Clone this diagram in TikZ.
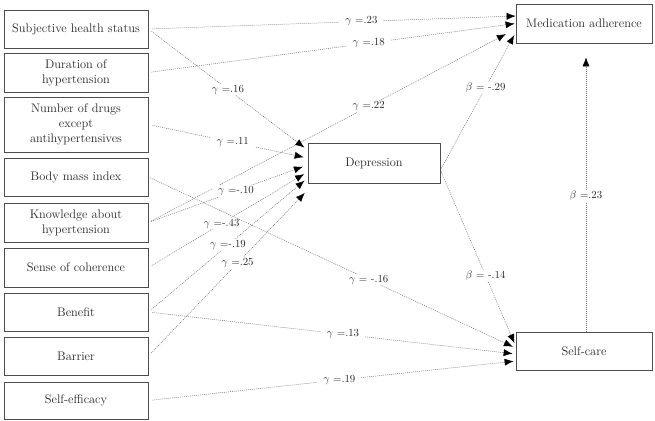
\documentclass[tikz,border=0pt]{standalone}
\usepackage{amsmath, amssymb}
\usepackage{tikz}
\usetikzlibrary{arrows.meta, positioning, calc}

\begin{document}
\begin{tikzpicture}[
  x=1pt, y=-1pt,
  box/.style={draw=black!70, line width=0.8pt, minimum width=144pt,
    minimum height=38pt, align=center, text=black!85,
    font=\fontsize{12.4}{15}\selectfont},
  arr/.style={-{Latex[length=9pt, width=7pt, black]}, black!55,
    line width=0.5pt, dash pattern=on 1pt off 1pt},
  lab/.style={fill=white, text=black!85, inner xsep=6pt, inner ysep=1pt,
    font=\fontsize{10.8}{12}\selectfont}
]
  \useasboundingbox (0,0) rectangle (655,420);
  \foreach \nm/\yy/\hh/\txt in {
      shs/29/38/{Subjective health status},
      dur/72.5/39/{Duration of\\hypertension},
      drug/124.5/55/{Number of drugs\\except\\antihypertensives},
      bmi/177/38/{Body mass index},
      know/222.5/39/{Knowledge about\\hypertension},
      soc/267.5/39/{Sense of coherence},
      ben/312/38/{Benefit},
      bar/356/38/{Barrier},
      eff/400.5/37/{Self-efficacy}} {
    \node[box, minimum height=\hh pt] (\nm) at (76,\yy) {\txt};
  }
  \node[box, minimum width=132pt, minimum height=40pt] (dep) at (374,163)
    {Depression};
  \node[box, minimum width=136pt, minimum height=39pt] (med) at (584,23.5)
    {Medication adherence};
  \node[box, minimum width=136pt, minimum height=38pt] (care) at (584,351)
    {Self-care};

  \draw[arr, shorten <=4pt] (shs.east) --
    node[lab, pos=0.58] {$\gamma$ =.23} ([yshift=7.5pt]med.west);
  \draw[arr, shorten <=3pt, shorten >=1pt] (dur.east) --
    node[lab, pos=0.6] {$\gamma$ =.18} (med.west);
  \draw[arr, shorten <=3pt, shorten >=11pt] (know.east) --
    node[lab, pos=0.6] {$\gamma$ =.22} ([yshift=-5.5pt]med.west);
  \draw[arr, shorten <=2pt, shorten >=3pt] ([yshift=-7pt]dep.east) --
    node[lab, pos=0.6] {$\beta$ = -.29} ([yshift=-9pt]med.west);

  \draw[arr, shorten <=4pt, shorten >=4pt] (shs.east) --
    node[lab, pos=0.5] {$\gamma$ =.16} ([yshift=13pt]dep.west);
  \draw[arr, shorten <=4pt, shorten >=4pt] (drug.east) --
    node[lab, pos=0.53] {$\gamma$ =.11} ([yshift=5pt]dep.west);
  \draw[arr, shorten <=3pt, shorten >=5pt] (know.east) --
    node[lab, pos=0.55] {$\gamma$ =-.10} ([yshift=-2pt]dep.west);
  \draw[arr, shorten <=4pt, shorten >=4pt] (soc.east) --
    node[lab, pos=0.46] {$\gamma$ =-.43} ([yshift=-9pt]dep.west);
  \draw[arr, shorten <=4pt, shorten >=4pt] (ben.east) --
    node[lab, pos=0.5] {$\gamma$ =-.19} ([yshift=-15pt]dep.west);
  \draw[arr, shorten <=4pt, shorten >=4pt] (bar.east) --
    node[lab, pos=0.56] {$\gamma$ =.25} ([yshift=-27pt]dep.west);

  \draw[arr, shorten <=2pt, shorten >=3pt] (bmi.east) --
    node[lab, pos=0.6] {$\gamma$ = -.16} ([yshift=3pt]care.west);
  \draw[arr, shorten <=2pt, shorten >=3pt] ([yshift=-7pt]dep.east) --
    node[lab, pos=0.6] {$\beta$ = -.14} ([yshift=5pt]care.west);
  \draw[arr, shorten <=4pt, shorten >=3pt] (ben.east) --
    node[lab, pos=0.53] {$\gamma$ =.13} ([yshift=-3pt]care.west);
  \draw[arr, shorten <=4pt, shorten >=2pt] (eff.east) --
    node[lab, pos=0.52] {$\gamma$ =.19} ([yshift=-10pt]care.west);

  \draw[arr, shorten >=14pt] ([xshift=2pt]care.north) --
    node[lab, pos=0.47] {$\beta$ =.23} ([xshift=2pt]med.south);
\end{tikzpicture}
\end{document}
